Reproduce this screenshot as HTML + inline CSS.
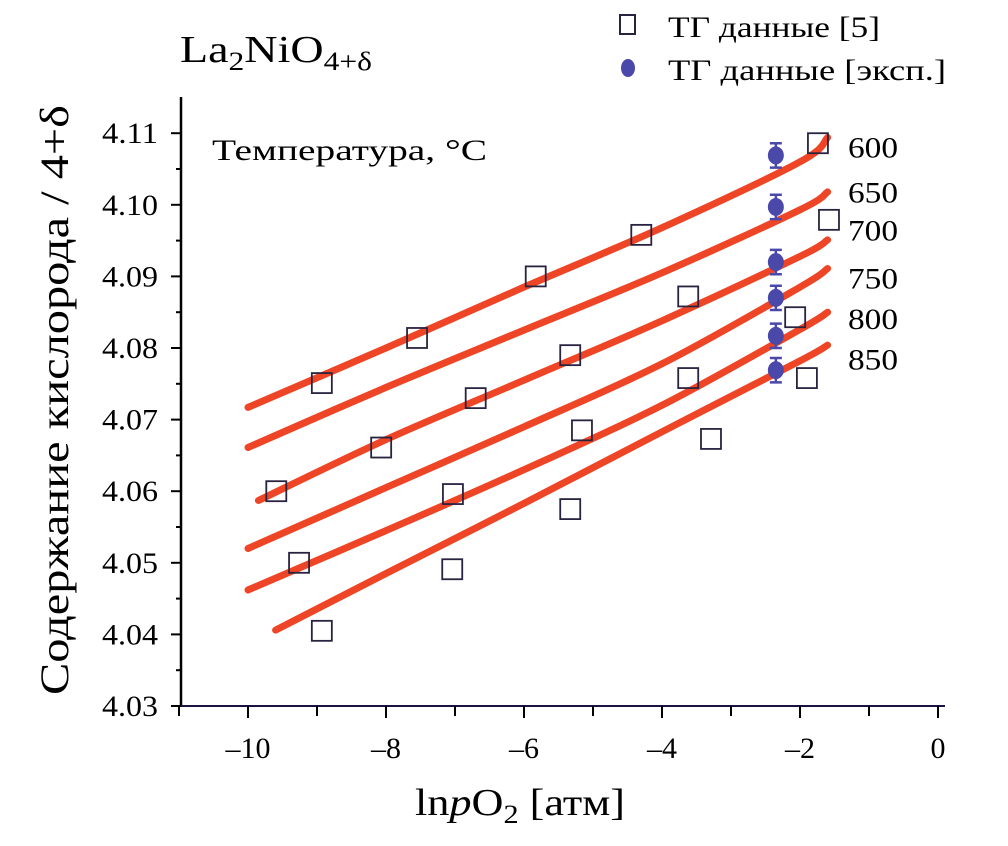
<!DOCTYPE html>
<html><head><meta charset="utf-8"><style>
html,body{margin:0;padding:0;background:#fff;}
svg{display:block;font-family:"Liberation Serif","Times New Roman","DejaVu Serif",serif;}
svg text{font-family:"Liberation Serif","Times New Roman","DejaVu Serif",serif;}
</style></head><body>
<svg id="chart" width="1008" height="846" viewBox="0 0 1008 846" xmlns="http://www.w3.org/2000/svg">
<text x="180" y="62" font-size="38" textLength="192" lengthAdjust="spacingAndGlyphs">La<tspan font-size="26" dy="8">2</tspan><tspan dy="-8">NiO</tspan><tspan font-size="26" dy="8">4+δ</tspan></text>
<g>
<rect x="620" y="15" width="15" height="19" fill="none" stroke="#2a2340" stroke-width="2"/>
<text x="668" y="37" font-size="30" textLength="212" lengthAdjust="spacingAndGlyphs">ТГ данные [5]</text>
<ellipse cx="628" cy="68" rx="7" ry="9" fill="#4a48a8"/>
<text x="668" y="80" font-size="30" textLength="278" lengthAdjust="spacingAndGlyphs">ТГ данные [эксп.]</text>
</g>
<text x="212" y="160" font-size="30" textLength="275" lengthAdjust="spacingAndGlyphs">Температура, °C</text>
<text transform="translate(68,400) rotate(-90)" text-anchor="middle" font-size="40" textLength="590" lengthAdjust="spacingAndGlyphs">Содержание кислорода / 4+δ</text>
<text x="415" y="815" font-size="38" textLength="210" lengthAdjust="spacingAndGlyphs">ln<tspan font-style="italic">p</tspan>O<tspan font-size="26" dy="8">2</tspan><tspan dy="-8"> [атм]</tspan></text>
<g id="axes"></g>
<g id="marks"></g>
</svg>
<script>
const xTicks=[-10,-8,-6,-4,-2,0];
const yTicks=[4.03,4.04,4.05,4.06,4.07,4.08,4.09,4.10,4.11];
const yTickLabels=["4.03","4.04","4.05","4.06","4.07","4.08","4.09","4.10","4.11"];
const xTickLabels=["\u201310","\u20138","\u20136","\u20134","\u20132","0"];
const tempLabels=["600","650","700","750","800","850"];
const tempLabelY=[4.1083,4.1020,4.0967,4.0900,4.0843,4.0787];
const lineX=[-10,-8,-6,-4,-2,-1.6];
const line600=[4.0717,4.0800,4.0885,4.0968,4.1060,4.1094];
const line650=[4.0661,4.0745,4.0825,4.0905,4.0993,4.1018];
const line700=[4.0587,4.0672,4.0755,4.0838,4.0928,4.0951];
const line750=[4.0520,4.0605,4.0690,4.0778,4.0885,4.0911];
const line800=[4.0462,4.0545,4.0630,4.0720,4.0826,4.0850];
const line850=[4.0406,4.0485,4.0583,4.0683,4.0782,4.0804];
const lineStart=[-10,-10,-9.85,-10,-10,-9.6];
const sqX=[-1.74,-1.58,-4.30,-5.83,-7.55,-8.93,-3.62,-5.33,-6.70,-8.07,-2.07,-3.62,-5.16,-7.03,-9.59,-1.90,-3.29,-5.33,-7.04,-9.26,-8.93];
const sqY=[4.1086,4.0979,4.0958,4.0900,4.0814,4.0751,4.0872,4.0790,4.0730,4.0661,4.0843,4.0758,4.0685,4.0596,4.0600,4.0758,4.0673,4.0575,4.0491,4.0500,4.0405];
const expX=[-2.35,-2.35,-2.35,-2.35,-2.35,-2.35];
const expY=[4.1069,4.0997,4.0920,4.0870,4.0817,4.0769];
const expErr=[0.0017,0.0017,0.0017,0.0017,0.0017,0.0017];

const NS="http://www.w3.org/2000/svg";
const X=v=>938+69*v;
const Y=v=>706-(v-4.03)*7160;
function mk(tag,attrs,parent){const e=document.createElementNS(NS,tag);for(const k in attrs)e.setAttribute(k,attrs[k]);parent.appendChild(e);return e;}
function smooth(pts){
  let d='M'+pts[0][0].toFixed(1)+' '+pts[0][1].toFixed(1);
  for(let i=0;i<pts.length-1;i++){
    const p0=pts[i-1]||pts[i],p1=pts[i],p2=pts[i+1],p3=pts[i+2]||p2;
    const c1=[p1[0]+(p2[0]-p0[0])/6,p1[1]+(p2[1]-p0[1])/6];
    const c2=[p2[0]-(p3[0]-p1[0])/6,p2[1]-(p3[1]-p1[1])/6];
    d+='C'+c1.map(n=>n.toFixed(1)).join(' ')+' '+c2.map(n=>n.toFixed(1)).join(' ')+' '+p2[0].toFixed(1)+' '+p2[1].toFixed(1);
  }
  return d;
}
const axes=document.getElementById('axes'),marks=document.getElementById('marks');
let e;
e=mk('line',{x1:181,y1:97,x2:181,y2:707,stroke:'#000','stroke-width':2.5},axes);


e=mk('line',{x1:181,y1:706,x2:945,y2:706,stroke:'#1a1440','stroke-width':2},axes);


for(let v=-11;v<=0;v++){
  e=mk('line',{x1:X(v),y1:706,x2:X(v),y2:v%2===0?718:716,stroke:'#000','stroke-width':2},axes);
  
  
}
xTicks.forEach((v,i)=>{
  e=mk('text',{x:X(v),y:758,'text-anchor':'middle','font-size':30},axes);e.textContent=xTickLabels[i];
  
  
});
yTicks.forEach((v,i)=>{
  e=mk('line',{x1:171,y1:Y(v),x2:181,y2:Y(v),stroke:'#000','stroke-width':2},axes);
  
  
  if(i<yTicks.length-1){
    e=mk('line',{x1:176,y1:Y(v+0.005),x2:181,y2:Y(v+0.005),stroke:'#000','stroke-width':2},axes);
    
    
  }
  e=mk('text',{x:158,y:Y(v)+10,'text-anchor':'end','font-size':30,textLength:56,lengthAdjust:'spacingAndGlyphs'},axes);e.textContent=yTickLabels[i];
  
  
});
const lines=[line600,line650,line700,line750,line800,line850];
lines.forEach((ys,k)=>{
  const xs=lineX.slice();xs[0]=lineStart[k];
  const pts=xs.map((x,i)=>[X(x),Y(ys[i])]);
  e=mk('path',{d:smooth(pts),fill:'none',stroke:'#ee4526','stroke-width':7,'stroke-linecap':'round','stroke-linejoin':'round'},marks);
  
  
  e=mk('text',{x:848,y:Y(tempLabelY[k])+12,'font-size':30,textLength:50,lengthAdjust:'spacingAndGlyphs'},marks);e.textContent=tempLabels[k];
  
  
});
sqX.forEach((x,i)=>{
  e=mk('rect',{x:X(x)-10,y:Y(sqY[i])-10,width:20,height:20,fill:'none',stroke:'#2a2340','stroke-width':1.8},marks);
  
  
});
expX.forEach((x,i)=>{
  const cx=X(x),t=Y(expY[i]+expErr[i]),b=Y(expY[i]-expErr[i]);
  e=mk('path',{d:`M${cx} ${t}V${b}M${cx-6} ${t}H${cx+6}M${cx-6} ${b}H${cx+6}`,stroke:'#4a48a8','stroke-width':2.5,fill:'none'},marks);
  
  
  e=mk('ellipse',{cx:cx,cy:Y(expY[i]),rx:8,ry:9,fill:'#4a48a8'},marks);
  
  
});
</script>
</body></html>
